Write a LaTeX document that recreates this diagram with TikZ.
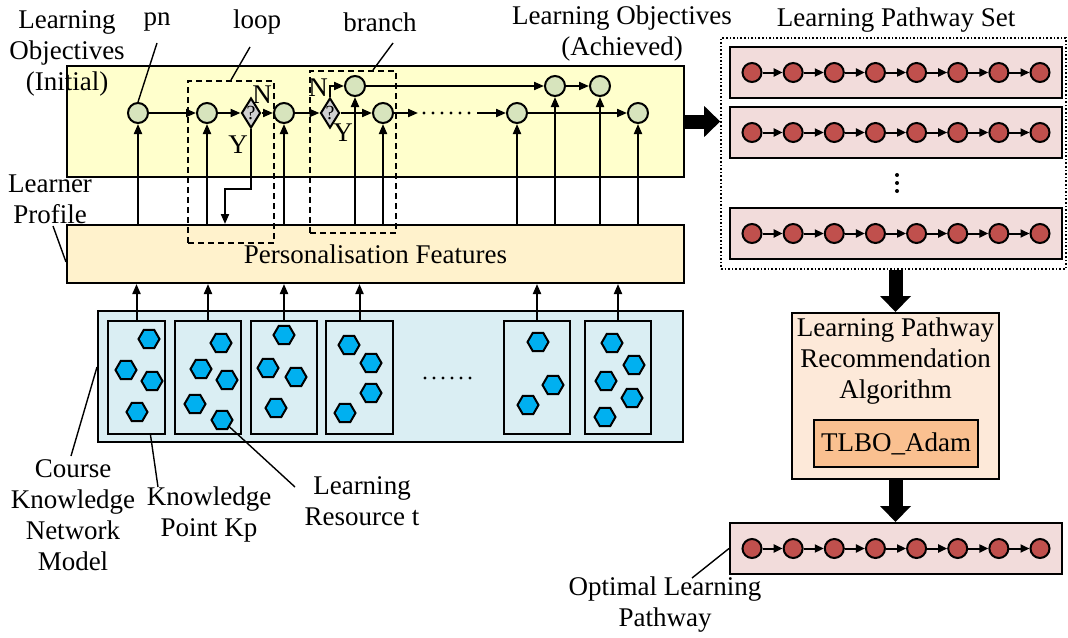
\documentclass[tikz,border=0pt]{standalone}
\usepackage{fontspec}
\setmainfont{Liberation Serif}
\usetikzlibrary{shapes.geometric,arrows.meta}
\definecolor{objfill}{HTML}{FFFFCC}
\definecolor{pffill}{HTML}{FFF2CC}
\definecolor{knfill}{HTML}{DAEEF3}
\definecolor{hexblue}{HTML}{00B0F0}
\definecolor{gnode}{HTML}{D7E4BD}
\definecolor{qgrey}{HTML}{D0D0D0}
\definecolor{pathfill}{HTML}{F2DCDB}
\definecolor{rnode}{HTML}{C0504D}
\definecolor{algfill}{HTML}{FDE9D9}
\definecolor{tlbofill}{HTML}{FAC090}
\begin{document}
\begin{tikzpicture}[x=0.5pt,y=-0.5pt,line width=1pt,
  font=\fontsize{13.5}{15.5}\selectfont,
  box/.style={draw,inner sep=0pt},
  gdot/.style={circle,draw,fill=gnode,minimum size=10pt,inner sep=0pt},
  rdot/.style={circle,draw,fill=rnode,minimum size=9.5pt,inner sep=0pt},
  ask/.style={diamond,draw,fill=qgrey,minimum width=9.5pt,minimum height=15pt,inner sep=0pt,
    label={[font=\fontsize{10}{10}\selectfont,inner sep=0pt]center:?}},
  hexa/.style={regular polygon,regular polygon sides=6,draw,fill=hexblue,minimum size=10.5pt,inner sep=0pt},
  arr/.style={-{Triangle[length=5pt,width=4pt]}},
  parr/.style={-{Triangle[length=4.5pt,width=4pt]}},
  fat/.style={line width=7pt,-{Triangle[length=8pt,width=15pt]}},
  callout/.style={line width=0.7pt},
  txt/.style={align=center,inner sep=0pt}]
  \useasboundingbox (0,0) rectangle (1068,637);

  \node[box,fill=objfill,minimum width=308.5pt,minimum height=55.5pt] (lo) at (375.5,121.5) {};
  \node[box,fill=pffill,minimum width=308.5pt,minimum height=29pt] (pf) at (375.5,254) {Personalisation Features};
  \node[box,fill=knfill,minimum width=292.5pt,minimum height=65.5pt] (kn) at (390.5,376.5) {};
  \foreach \n/\x/\w in {1/136.5/28.5pt,2/208/33pt,3/284/33pt,4/359.5/33.5pt,5/537/33pt,6/618/33pt}
    \node[box,fill=knfill,minimum width=\w,minimum height=56.5pt] (k\n) at (\x,377.5) {};
  \foreach \x/\y [count=\n] in {149/339,126/370,152/381,137/412,
      221/343,201/369,227/380,195/404,222/420,
      284/335,268/368,296/377,276/408,
      349/345,371/363,371/393,345/413,
      538/342,553/385,528/405,
      612/343,634/365,606/381,632/398,605/417}
    \node[hexa] (h\n) at (\x,\y) {};
  \foreach \x in {425,434,...,470} \fill (\x,378) circle (0.8pt);
  \foreach \n in {1,...,6} \draw[arr] (k\n.north) -- (k\n.north |- pf.south);

  \node[gdot] (pn) at (138,113) {};
  \node[gdot] (c2) at (207,113) {};
  \node[ask] (d1) at (251,113) {};
  \node[gdot] (c3) at (284,113) {};
  \node[ask] (d2) at (330,113) {};
  \node[gdot] (b1) at (355,86) {};
  \node[gdot] (c4) at (383,113) {};
  \node[gdot] (c5) at (517,113) {};
  \node[gdot] (b2) at (555,86) {};
  \node[gdot] (b3) at (600,86) {};
  \node[gdot] (c6) at (638,113) {};
  \coordinate (e1) at (418,113);
  \coordinate (e2) at (477,113);
  \coordinate (turn) at (225,189);
  \draw[arr] (pn) -- (c2);
  \draw[arr] (c2) -- (d1);
  \draw[arr] (d1) -- (c3);
  \draw[arr] (c3) -- (d2);
  \draw[arr] (d2) -- (c4);
  \draw[arr] (c4) -- (e1);
  \draw[arr] (e2) -- (c5);
  \draw[arr] (c5) -- (c6);
  \draw[arr] (b1) -- (b2);
  \draw[arr] (b2) -- (b3);
  \draw[arr] (d2.north) |- (b1);
  \draw[arr] (d1.south) |- (turn) -- (turn |- pf.north);
  \foreach \x in {424,433,...,469} \fill (\x,113) circle (0.8pt);
  \foreach \c in {pn,c2,c3,b1,c4,c5,b2,b3,c6} \draw[arr] (\c |- pf.north) -- (\c);
  \node (n1) at (262,95) {N};
  \node (y1) at (238,145) {Y};
  \node (n2) at (318,88) {N};
  \node (y2) at (343,133) {Y};
  \node[draw,densely dashed,minimum width=43pt,minimum height=81pt] (lp) at (231,162) {};
  \node[draw,densely dashed,minimum width=43pt,minimum height=81pt] (br) at (353,152) {};

  \node[txt] (loini) at (67,53) {Learning\\Objectives\\(Initial)};
  \node[txt] (loach) at (622,34) {Learning Objectives\\(Achieved)};
  \node (pnlab) at (157,22) {pn};
  \node (lplab) at (257,22) {loop};
  \node (brlab) at (380,22) {branch};
  \node[txt] (lrnp) at (50,199) {Learner\\Profile};
  \node[txt] (cknm) at (73,515) {Course\\Knowledge\\Network\\Model};
  \node[txt] (kplab) at (209,514) {Knowledge\\Point Kp};
  \node[txt] (lrlab) at (362,501) {Learning\\Resource t};
  \node[txt] (oplab) at (665,605) {Optimal Learning\\Pathway};
  \coordinate (pnl) at (157,43);
  \coordinate (lpl) at (250,47);
  \coordinate (brl) at (393,43);
  \coordinate (lrnpl) at (53,226);
  \coordinate (cknml) at (71,456);
  \coordinate (kpl) at (158,487);
  \coordinate (lrl) at (295,487);
  \coordinate (opl) at (692,578);
  \draw[callout] (pnl) -- (pn.north);
  \draw[callout] (lpl) -- (lp.north);
  \draw[callout] (brl) -- ([xshift=10pt]br.north);
  \draw[callout] (lrnpl) -- ([yshift=-4pt]pf.west);
  \draw[callout] (cknml) -- ([yshift=4.75pt]kn.west);
  \draw[callout] (kpl) -- ([xshift=7pt]k1.south);
  \draw[callout] (lrl) -- (h9);

  \node[draw,densely dotted,line width=0.8pt,minimum width=172.5pt,minimum height=115.5pt] (ps) at (893.5,153.5) {};
  \node (pstitle) at (896,20) {Learning Pathway Set};
  \foreach \r/\y in {pa/72.5,pb/132.5,pc/233.5,po/548.5} {
    \node[box,fill=pathfill,minimum width=166pt,minimum height=25.5pt] (\r) at (896,\y) {};
    \foreach \i in {1,...,8} \node[rdot] (\r\i) at ({752+41.14*(\i-1)},\y) {};
    \foreach \i [evaluate=\i as \j using int(\i+1)] in {1,...,7} \draw[parr] (\r\i) -- (\r\j);
  }
  \foreach \y in {175,183,191} \fill (897,\y) circle (1pt);
  \node[box,fill=algfill,minimum width=103.5pt,minimum height=83pt] (alg) at (895.5,396) {};
  \node[txt] (algtxt) at (895.5,361.5) {Learning Pathway\\Recommendation\\Algorithm};
  \node[box,fill=tlbofill,minimum width=82pt,minimum height=23.5pt] (tlbo) at (896,443.5) {TLBO\_Adam};
  \draw[fat] (lo.east) -- (lo.east -| ps.west);
  \draw[fat] (alg.north |- ps.south) -- (alg.north);
  \draw[fat] (alg.south) -- (alg.south |- po.north);
  \draw[callout] (opl) -- (po.west);
\end{tikzpicture}
\end{document}
